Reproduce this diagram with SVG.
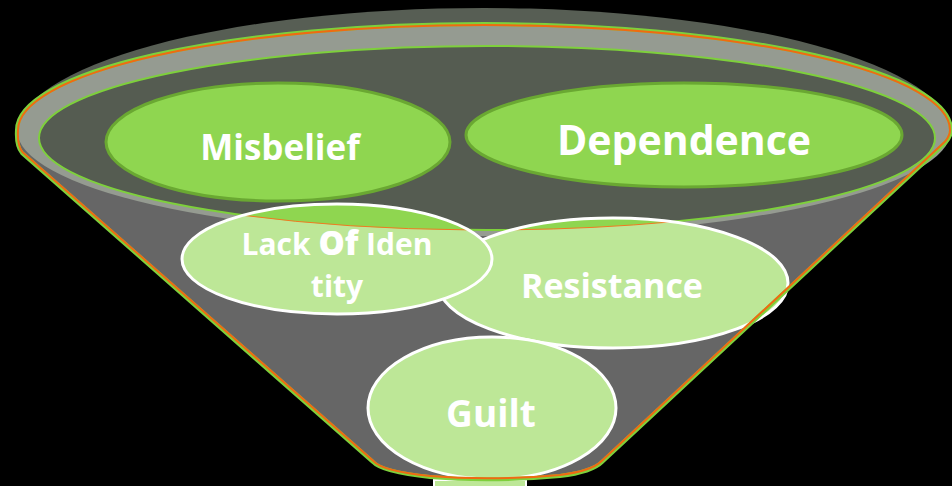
<svg xmlns="http://www.w3.org/2000/svg" width="952" height="486" viewBox="0 0 952 486">
  <style>
    .lbl { font-family: "Open Sans", "Liberation Sans", sans-serif; font-weight: 700; fill: #ffffff; text-anchor: middle; }
    .topnode { fill: #8fd650; stroke: #6aa832; stroke-width: 3; }
    .light { fill: #bde797; }
    .lightStroke { fill: none; stroke: #ffffff; stroke-width: 3; }
    .overlay { fill: #8fd650; stroke: none; }
    .seam { fill: none; stroke: #f07a22; stroke-width: 1; }
  </style>
  <defs>
    <path id="bodyPath" d="M 17,130 A 467,106 0 0 1 951,130 Q 951,136 946,142 L 602,462 Q 592,472 560,476 Q 490,482 430,477 Q 382,472 373,462 L 22,153 Q 16,146 17,130 Z"/>
    <clipPath id="bodyClip"><use href="#bodyPath"/></clipPath>
    <clipPath id="topClip" clipPathUnits="userSpaceOnUse"><rect x="0" y="0" width="952" height="132"/></clipPath>
  </defs>
  <rect x="0" y="0" width="952" height="486" fill="#000000"/>

  <g id="funnel">
    <ellipse cx="484" cy="135" rx="468" ry="127" fill="#575e54" clip-path="url(#topClip)"/>
    <use href="#bodyPath" fill="#666666"/>
    <ellipse cx="484" cy="130" rx="467" ry="106" fill="#959b91"/>
    <ellipse cx="487" cy="138" rx="448" ry="92" fill="#555c51" stroke="#7ed03c" stroke-width="2"/>
  </g>

  <g id="node-misbelief">
    <ellipse class="topnode" cx="278" cy="142" rx="172" ry="59"/>
    <text class="lbl" x="280" y="160" font-size="35">Misbelief</text>
  </g>

  <g id="node-dependence">
    <ellipse class="topnode" cx="684" cy="135" rx="218" ry="52"/>
    <text class="lbl" x="684" y="155" font-size="41">Dependence</text>
  </g>

  <g id="node-resistance">
    <ellipse class="light" cx="613" cy="283" rx="175" ry="65"/>
    <path class="overlay" d="M 512.5,229.8 A 175,65 0 0 1 672,221.8 A 448,92 0 0 1 512.5,229.8 Z"/>
    <path class="seam" d="M 672,221.8 A 448,92 0 0 1 512.5,229.8"/>
    <ellipse class="lightStroke" cx="613" cy="283" rx="175" ry="65"/>
    <text class="lbl" x="612" y="298" font-size="34">Resistance</text>
  </g>

  <g id="node-lack-of-identity">
    <ellipse class="light" cx="337" cy="259" rx="155" ry="55"/>
    <path class="overlay" d="M 243,215.3 A 155,55 0 0 1 468.5,229.9 A 448,92 0 0 1 243,215.3 Z"/>
    <path class="seam" d="M 468.5,229.9 A 448,92 0 0 1 243,215.3"/>
    <ellipse class="lightStroke" cx="337" cy="259" rx="155" ry="55"/>
    <text class="lbl" x="337" y="255" font-size="30">Lack <tspan font-size="33" font-weight="800">Of</tspan> Iden</text>
    <text class="lbl" x="337" y="297" font-size="30">tity</text>
  </g>

  <g id="node-guilt">
    <rect x="434" y="480" width="92" height="8" fill="#bde797" stroke="#ffffff" stroke-width="2"/>
    <ellipse class="light" cx="492" cy="408" rx="124" ry="71"/>
    <ellipse class="lightStroke" cx="492" cy="408" rx="124" ry="71"/>
    <text class="lbl" x="491" y="427" font-size="37">Guilt</text>
  </g>

  <g id="connectors">
    <use href="#bodyPath" fill="none" stroke="#7ed03c" stroke-width="4"/>
    <use href="#bodyPath" fill="none" stroke="#f06a12" stroke-width="4" clip-path="url(#bodyClip)"/>
  </g>
</svg>
